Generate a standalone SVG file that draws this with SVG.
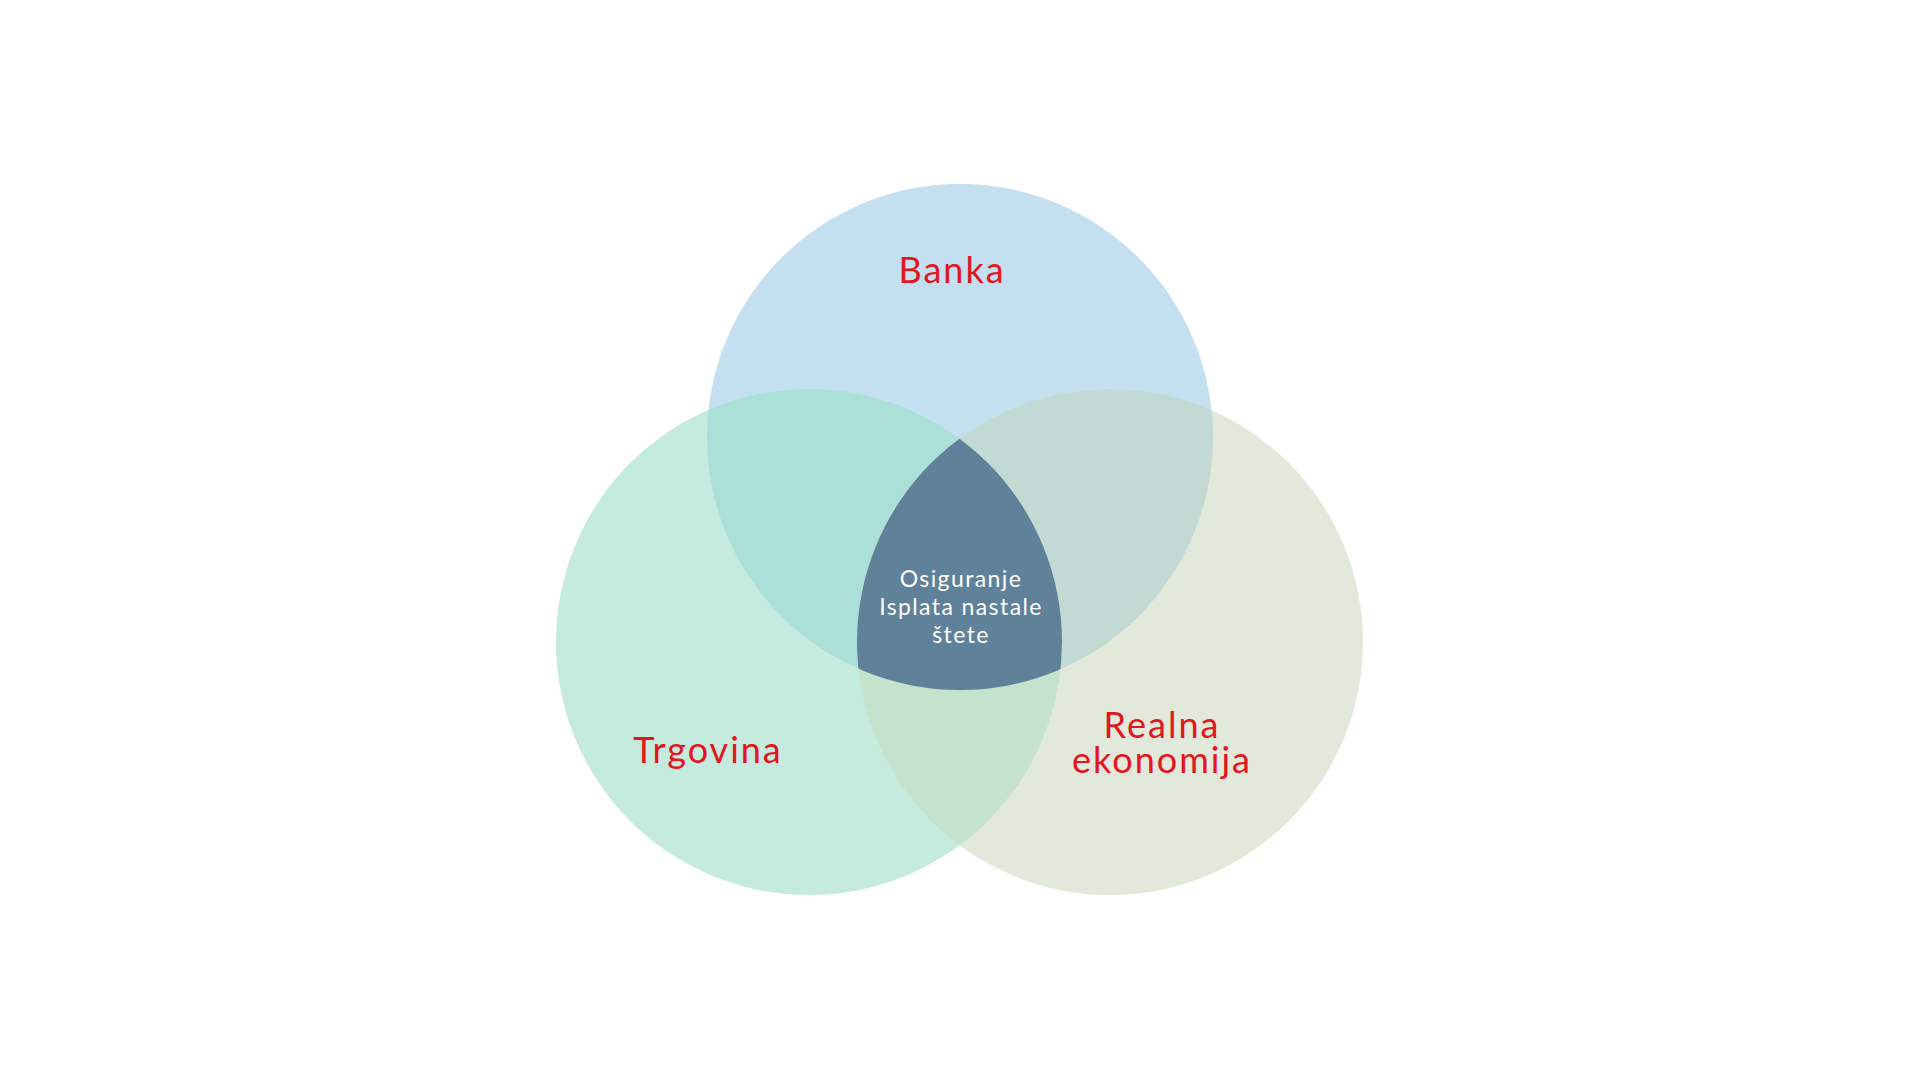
<svg xmlns="http://www.w3.org/2000/svg" width="1920" height="1080" viewBox="0 0 1920 1080">
  <defs>
    <clipPath id="cTop"><circle cx="960" cy="437" r="253"/></clipPath>
    <clipPath id="cLeft"><circle cx="809" cy="642" r="253"/></clipPath>
    <clipPath id="cRight"><circle cx="1110" cy="642" r="253"/></clipPath>
    <style>
      .lbl { font-family: "Lato", "Liberation Sans", sans-serif; fill: #e3151d; font-size: 36px; letter-spacing: 2px; text-anchor: middle; }
      .ctr { font-family: "Lato", "Liberation Sans", sans-serif; fill: #ffffff; font-size: 23px; letter-spacing: 1.4px; text-anchor: middle; }
    </style>
  </defs>
  <rect width="1920" height="1080" fill="#ffffff"/>
  <g id="banka">
    <circle cx="960" cy="437" r="253" fill="#c3dff0"/>
  </g>
  <g id="trgovina">
    <circle cx="809" cy="642" r="253" fill="#c4ebdd"/>
  </g>
  <g id="realna-ekonomija">
    <circle cx="1110" cy="642" r="253" fill="#e2e8da"/>
  </g>
  <g id="overlaps">
    <circle cx="809" cy="642" r="253" fill="#abe0d8" clip-path="url(#cTop)"/>
    <circle cx="1110" cy="642" r="253" fill="#c3d9d4" clip-path="url(#cTop)"/>
    <g clip-path="url(#cLeft)">
      <circle cx="1110" cy="642" r="253" fill="#c5e2cc"/>
    </g>
  </g>
  <g id="osiguranje">
    <g clip-path="url(#cTop)">
      <g clip-path="url(#cLeft)">
        <circle cx="1110" cy="642" r="253" fill="#5f8199"/>
      </g>
    </g>
    <text class="ctr" x="961" y="587">Osiguranje</text>
    <text class="ctr" x="961" y="615">Isplata nastale</text>
    <text class="ctr" x="961" y="643">štete</text>
  </g>
  <g id="labels">
    <text class="lbl" x="952" y="283">Banka</text>
    <text class="lbl" x="708" y="763">Trgovina</text>
    <text class="lbl" x="1162" y="738">Realna</text>
    <text class="lbl" x="1162" y="773">ekonomija</text>
  </g>
</svg>
